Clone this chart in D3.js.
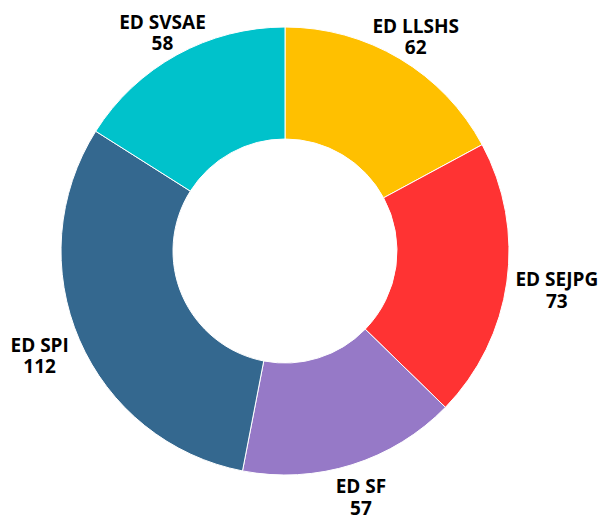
<!DOCTYPE html>
<html>
<head>
<meta charset="utf-8">
<script src="https://cdn.jsdelivr.net/npm/d3@7"></script>
<style>
  html, body { margin: 0; padding: 0; background: #fff; }
  svg { display: block; }
  .lbl { font-family: "Open Sans", sans-serif; font-weight: 700; font-size: 19px; fill: #000; }
</style>
</head>
<body>
<svg id="chart"></svg>
<script>
// donut data
const categories = ['ED LLSHS', 'ED SEJPG', 'ED SF', 'ED SPI', 'ED SVSAE'];
const values = [62, 73, 57, 112, 58];
const colors = ['#FFC000', '#FF3333', '#9679C7', '#34688F', '#00C2CB'];

const width = 601, height = 516;
const cx = 285, cy = 251;
const outerR = 224, innerR = 112;

const svg = d3.select('#chart')
  .attr('width', width)
  .attr('height', height);

const g = svg.append('g').attr('transform', `translate(${cx},${cy})`);

const pie = d3.pie().sort(null).value((d) => d.value);
const arc = d3.arc().innerRadius(innerR).outerRadius(outerR);

const data = categories.map((c, i) => ({ name: c, value: values[i], color: colors[i] }));
const arcs = pie(data);

g.selectAll('path.slice')
  .data(arcs)
  .enter().append('path')
  .attr('class', 'slice')
  .attr('d', arc)
  .attr('fill', (d) => d.data.color)
  .attr('stroke', '#fff')
  .attr('stroke-width', 1);

// labels outside, pushed sideways by half the text width on the flanks
const labelR = outerR + 30;
const labels = g.selectAll('g.lbl')
  .data(arcs)
  .enter().append('g')
  .attr('class', 'lbl');

labels.append('text')
  .attr('class', 'lbl')
  .attr('text-anchor', 'middle')
  .attr('y', -4)
  .text((d) => d.data.name);

labels.append('text')
  .attr('class', 'lbl')
  .attr('text-anchor', 'middle')
  .attr('y', 17.5)
  .text((d) => d.data.value);

labels.attr('transform', function (d) {
  const a = (d.startAngle + d.endAngle) / 2;
  const vx = Math.sin(a), vy = -Math.cos(a);
  const hw = this.querySelector('text').getComputedTextLength() / 2;
  const shift = Math.sign(vx) * hw * Math.max(0, Math.abs(vx) - 0.5);
  return `translate(${vx * labelR + shift},${vy * labelR + 4})`;
});
</script>
</body>
</html>
